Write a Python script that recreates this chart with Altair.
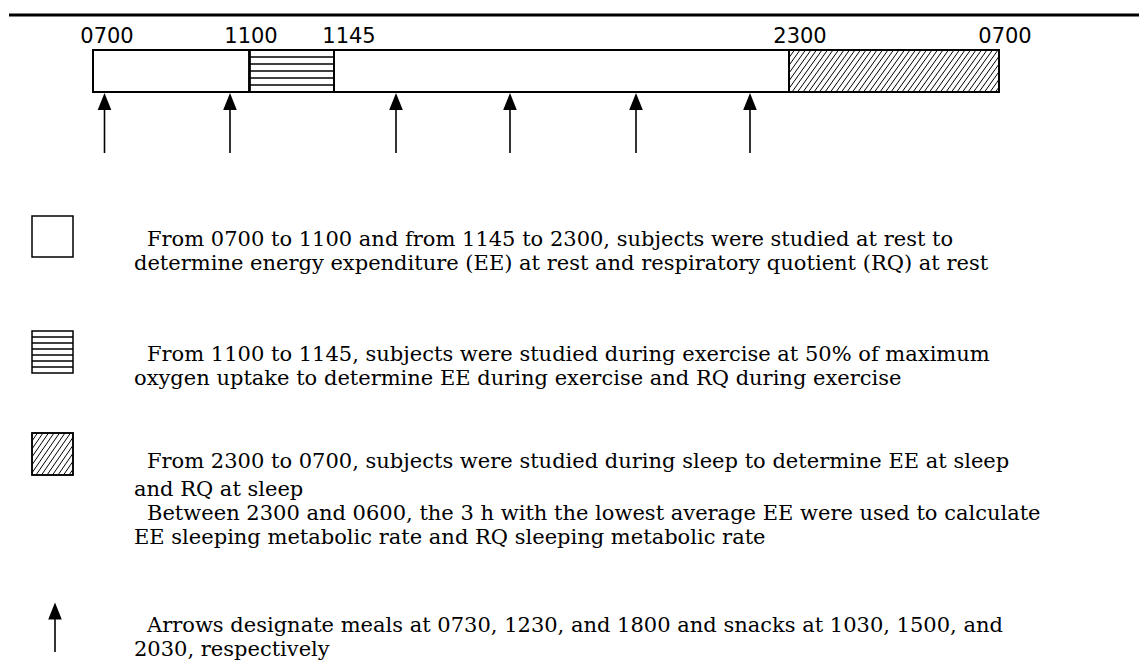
import altair as alt
import pandas as pd

# ---------------- data ----------------
SEG_START = [7, 11, 11.75, 23]
SEG_END = [11, 11.75, 23, 31]
SEG_KIND = ["rest", "exercise", "rest", "sleep"]

LABEL_TIME = [7, 11, 11.75, 23, 31]
LABEL_TEXT = ["0700", "1100", "1145", "2300", "0700"]

ARROW_TIME = [7.5, 10.5, 12.5, 15, 18, 20.5]
ARROW_KIND = ["meal", "snack", "meal", "snack", "meal", "snack"]

LEGEND_TEXT = [
    "From 0700 to 1100 and from 1145 to 2300, subjects were studied at rest to",
    "determine energy expenditure (EE) at rest and respiratory quotient (RQ) at rest",
    "From 1100 to 1145, subjects were studied during exercise at 50% of maximum",
    "oxygen uptake to determine EE during exercise and RQ during exercise",
    "From 2300 to 0700, subjects were studied during sleep to determine EE at sleep",
    "and RQ at sleep",
    "Between 2300 and 0600, the 3 h with the lowest average EE were used to calculate",
    "EE sleeping metabolic rate and RQ sleeping metabolic rate",
    "Arrows designate meals at 0730, 1230, and 1800 and snacks at 1030, 1500, and",
    "2030, respectively",
]
LEGEND_INDENT = [True, False, True, False, True, False, True, False, True, False]

# ---------------- layout / style ----------------
W, H = 1131, 655
SERIF = "DejaVu Serif"
SANS = "DejaVu Sans"
# schematic (not to scale) time axis: piecewise-linear scale
X_DOMAIN = [7, 7.5, 10.5, 11, 11.75, 12.5, 15, 18, 20.5, 23, 31]
X_RANGE = [85, 96.5, 222, 241.5, 326, 388, 502, 628, 742, 781, 991]
xs = alt.Scale(domain=X_DOMAIN, range=X_RANGE, zero=False, nice=False, clamp=False)
ys = alt.Scale(domain=[0, 1], range=[84, 42], zero=False, nice=False)
LABEL_DX = [14, 1.5, 15, 11, 6]
LABEL_BASE_Y = 35
ARROW_HEAD_Y = 93.5
ARROW_SHAFT = (102, 145)
HEAD_PATH = "M0,-1L0.8,1L-0.8,1Z"
TEXT_Y = [232, 256, 347, 371, 454, 482, 506, 530, 618, 642]
TEXT_X_FIRST, TEXT_X_CONT = 139, 126
FONT_SIZE = 21
BOX_X = (24, 65)
BOX_Y = [(208, 249), (323, 365), (425, 467)]
LEG_ARROW_X = 47
LEG_HEAD_Y = 603
LEG_SHAFT = (611, 644)


def diag_lines(x0, x1, yb, yt, run, step):
    out = []
    xs_ = x0 - run
    while xs_ < x1:
        s_lo = max(0.0, (x0 - xs_) / run)
        s_hi = min(1.0, (x1 - xs_) / run)
        if s_hi > s_lo:
            out.append((xs_ + s_lo * run, yb + s_lo * (yt - yb),
                        xs_ + s_hi * run, yb + s_hi * (yt - yb)))
        xs_ += step
    return out


layers = []

# top rule
layers.append(
    alt.Chart(pd.DataFrame({"k": [0]})).mark_rule(color="black", strokeWidth=3).encode(
        x=alt.value(1), x2=alt.value(W), y=alt.value(7)
    )
)

# bar segments
seg_df = pd.DataFrame({"start": SEG_START, "end": SEG_END, "kind": SEG_KIND,
                       "lo": [0] * 4, "hi": [1] * 4})
layers.append(
    alt.Chart(seg_df).mark_rect(fill="white", stroke="black", strokeWidth=2).encode(
        x=alt.X("start:Q", scale=xs, axis=None), x2="end:Q",
        y=alt.Y("lo:Q", scale=ys, axis=None), y2="hi:Q",
    )
)

# horizontal hatch in exercise block
ex = seg_df[seg_df.kind == "exercise"].iloc[0]
hdf = pd.DataFrame({"a": [ex.start] * 5, "b": [ex.end] * 5, "y": [k / 6 for k in range(1, 6)]})
layers.append(
    alt.Chart(hdf).mark_rule(color="black", strokeWidth=1.3).encode(
        x=alt.X("a:Q", scale=xs, axis=None), x2="b:Q",
        y=alt.Y("y:Q", scale=ys, axis=None),
    )
)

# diagonal hatch in sleep block (time units / bar fraction)
sl = seg_df[seg_df.kind == "sleep"].iloc[0]
px_per_h = (X_RANGE[-1] - X_RANGE[-2]) / (X_DOMAIN[-1] - X_DOMAIN[-2])
dl = diag_lines(sl.start, sl.end, 0.0, 1.0, 30 / px_per_h, 5.5 / px_per_h)
ddf = pd.DataFrame(dl, columns=["xa", "ya", "xb", "yb"])
layers.append(
    alt.Chart(ddf).mark_rule(color="black", strokeWidth=1).encode(
        x=alt.X("xa:Q", scale=xs, axis=None), x2="xb:Q",
        y=alt.Y("ya:Q", scale=ys, axis=None), y2="yb:Q",
    )
)
# re-draw outline of blocks on top of hatch
layers.append(
    alt.Chart(seg_df).mark_rect(fill=None, stroke="black", strokeWidth=2, filled=False).encode(
        x=alt.X("start:Q", scale=xs, axis=None), x2="end:Q",
        y=alt.Y("lo:Q", scale=ys, axis=None), y2="hi:Q",
    )
)

# time labels
for t, s, dx in zip(LABEL_TIME, LABEL_TEXT, LABEL_DX):
    layers.append(
        alt.Chart(pd.DataFrame({"time": [t], "label": [s]})).mark_text(
            font=SANS, fontSize=21, color="black", align="center",
            baseline="alphabetic", dx=dx
        ).encode(
            x=alt.X("time:Q", scale=xs, axis=None), y=alt.value(LABEL_BASE_Y), text="label:N"
        )
    )

# arrows
adf = pd.DataFrame({"time": ARROW_TIME, "kind": ARROW_KIND})
layers.append(
    alt.Chart(adf).mark_rule(color="black", strokeWidth=1.6).encode(
        x=alt.X("time:Q", scale=xs, axis=None),
        y=alt.value(ARROW_SHAFT[0]), y2=alt.value(ARROW_SHAFT[1]),
    )
)
layers.append(
    alt.Chart(adf).mark_point(shape=HEAD_PATH, filled=True, size=289, color="black",
                              opacity=1, strokeWidth=0).encode(
        x=alt.X("time:Q", scale=xs, axis=None), y=alt.value(ARROW_HEAD_Y),
    )
)

# legend swatches
dummy = pd.DataFrame({"k": [0]})
for (y0, y1) in BOX_Y:
    layers.append(
        alt.Chart(dummy).mark_rect(fill="white", stroke="black", strokeWidth=1.5).encode(
            x=alt.value(BOX_X[0]), x2=alt.value(BOX_X[1]), y=alt.value(y0), y2=alt.value(y1)
        )
    )
# horizontal lines in swatch 2
y0, y1 = BOX_Y[1]
for k in range(1, 7):
    yy = y0 + k * (y1 - y0) / 7
    layers.append(
        alt.Chart(dummy).mark_rule(color="black", strokeWidth=1.3).encode(
            x=alt.value(BOX_X[0]), x2=alt.value(BOX_X[1]), y=alt.value(yy)
        )
    )
# diagonal lines in swatch 3
y0, y1 = BOX_Y[2]
for (xa, ya, xb, yb) in diag_lines(BOX_X[0], BOX_X[1], y1, y0, 29, 5.5):
    layers.append(
        alt.Chart(dummy).mark_rule(color="black", strokeWidth=1).encode(
            x=alt.value(xa), x2=alt.value(xb), y=alt.value(ya), y2=alt.value(yb)
        )
    )
# re-stroke swatch 3 border
layers.append(
    alt.Chart(dummy).mark_rect(fill=None, filled=False, stroke="black", strokeWidth=1.5).encode(
        x=alt.value(BOX_X[0]), x2=alt.value(BOX_X[1]), y=alt.value(y0), y2=alt.value(y1)
    )
)
# legend arrow
layers.append(
    alt.Chart(dummy).mark_rule(color="black", strokeWidth=1.6).encode(
        x=alt.value(LEG_ARROW_X), y=alt.value(LEG_SHAFT[0]), y2=alt.value(LEG_SHAFT[1])
    )
)
layers.append(
    alt.Chart(dummy).mark_point(shape=HEAD_PATH, filled=True, size=289, color="black",
                                opacity=1, strokeWidth=0).encode(
        x=alt.value(LEG_ARROW_X), y=alt.value(LEG_HEAD_Y)
    )
)

# legend text
for txt, y, ind in zip(LEGEND_TEXT, TEXT_Y, LEGEND_INDENT):
    layers.append(
        alt.Chart(pd.DataFrame({"t": [txt]})).mark_text(
            font=SERIF, fontSize=FONT_SIZE, color="black", align="left", baseline="middle"
        ).encode(
            x=alt.value(TEXT_X_FIRST if ind else TEXT_X_CONT), y=alt.value(y), text="t:N"
        )
    )

chart = alt.layer(*layers).properties(
    width=W, height=H, padding=0, autosize=alt.AutoSizeParams(type="none"),
    background="white",
).configure_view(stroke=None)

chart.save("out.html", embed_options={"renderer": "svg", "actions": False})
